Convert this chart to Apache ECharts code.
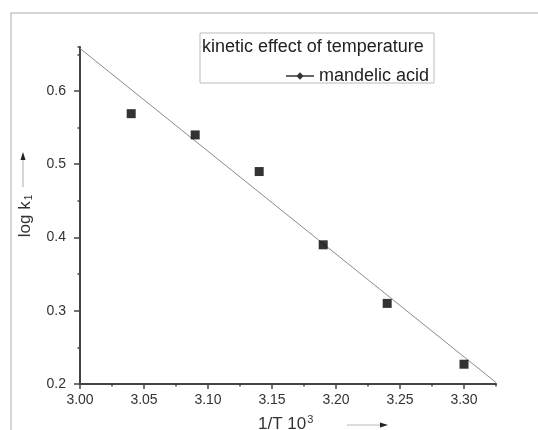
<!DOCTYPE html>
<html>
<head>
<meta charset="utf-8">
<script src="https://cdn.jsdelivr.net/npm/echarts@6/dist/echarts.min.js"></script>
<style>
  html, body { margin: 0; padding: 0; background: #fff; }
  #chart { width: 538px; height: 430px; }
</style>
</head>
<body>
<div id="chart"></div>
<script>
// measured points: 1/T * 10^3 vs log k1
const invT = [3.04, 3.09, 3.14, 3.19, 3.24, 3.30];
const logK = [0.569, 0.540, 0.490, 0.390, 0.310, 0.227];
// fitted line at both ends of the x axis
const fitX = [3.00, 3.325];
const fitY = [0.658, 0.202];
const seriesName = "mandelic acid";
const legendTitle = "kinetic effect of temperature";

const FONT = "'Liberation Sans', Arial, sans-serif";
const chart = echarts.init(document.getElementById("chart"));

const points = invT.map((x, i) => [x, logK[i]]);
const fit = fitX.map((x, i) => [x, fitY[i]]);

const axisBase = {
  type: "value",
  axisLine: { lineStyle: { color: "#444", width: 2 } },
  splitLine: { show: false },
};

const option = {
  animation: false,
  backgroundColor: "#fff",
  grid: { left: 80, right: 42, top: 47, bottom: 46 },
  xAxis: [
    Object.assign({}, axisBase, {
      min: 3.0, max: 3.325, interval: 0.05,
      axisTick: { length: 5, lineStyle: { color: "#444", width: 1.5 } },
      axisLabel: {
        margin: 9, color: "#333", fontSize: 14, fontFamily: FONT,
        showMaxLabel: false,
        formatter: (v) => v.toFixed(2),
      },
    }),
    Object.assign({}, axisBase, {
      min: 3.0, max: 3.325, interval: 0.025, position: "bottom",
      axisLine: { show: false },
      axisTick: { length: 2.5, lineStyle: { color: "#444", width: 1.5 } },
      axisLabel: { show: false },
    }),
  ],
  yAxis: [
    Object.assign({}, axisBase, {
      min: 0.2, max: 0.66, interval: 0.1,
      axisTick: { length: 6, lineStyle: { color: "#444", width: 1.5 } },
      axisLabel: {
        margin: 14, color: "#333", fontSize: 14, fontFamily: FONT,
        showMaxLabel: false,
        formatter: (v) => v.toFixed(1),
      },
    }),
    Object.assign({}, axisBase, {
      min: 0.2, max: 0.66, interval: 0.05, position: "left",
      axisLine: { show: false },
      axisTick: { length: 2.5, lineStyle: { color: "#444", width: 1.5 } },
      axisLabel: { show: false },
    }),
  ],
  legend: {
    data: [seriesName],
    left: 281, top: 62,
    itemWidth: 28, itemHeight: 8, itemGap: 5,
    icon: "path://M0,3.3H28V4.7H0Z M14,0.3L17.7,4L14,7.7L10.3,4Z",
    textStyle: { fontSize: 18, color: "#222", fontFamily: FONT },
  },
  graphic: [
    // outer frame of the figure
    { type: "rect", z: -1, shape: { x: 11, y: 13, width: 560, height: 440 },
      style: { fill: "#fff", stroke: "#c8c8c8", lineWidth: 1.5 } },
    // legend box
    { type: "rect", z: 0, shape: { x: 200, y: 33, width: 234, height: 50 },
      style: { fill: "#fff", stroke: "#bbb", lineWidth: 1 } },
    { type: "text", z: 1, x: 202, y: 47,
      style: { text: legendTitle, fill: "#222", fontSize: 18, fontFamily: FONT, verticalAlign: "middle" } },
    // y axis name
    { type: "text", z: 1, x: 25, y: 216, rotation: Math.PI / 2,
      style: {
        text: "{a|log k}{s|1}", align: "center", verticalAlign: "middle",
        rich: {
          a: { fontSize: 17, fill: "#333", fontFamily: FONT },
          s: { fontSize: 10, fill: "#333", fontFamily: FONT, padding: [8, 0, 0, 1] },
        },
      } },
    { type: "line", shape: { x1: 23, y1: 187, x2: 23, y2: 158 },
      style: { stroke: "#bbb", lineWidth: 1.2 } },
    { type: "polygon", shape: { points: [[23, 152], [20.5, 160], [25.5, 160]] },
      style: { fill: "#222" } },
    // x axis name
    { type: "text", z: 1, x: 258, y: 424,
      style: {
        text: "{a|1/T 10}{s|3}", verticalAlign: "middle",
        rich: {
          a: { fontSize: 17, fill: "#333", fontFamily: FONT },
          s: { fontSize: 11, fill: "#333", fontFamily: FONT, padding: [0, 0, 9, 1] },
        },
      } },
    { type: "line", shape: { x1: 347, y1: 425, x2: 381, y2: 425 },
      style: { stroke: "#bbb", lineWidth: 1.2 } },
    { type: "polygon", shape: { points: [[388, 425], [380, 422.5], [380, 427.5]] },
      style: { fill: "#222" } },
  ],
  series: [
    {
      name: "fit",
      type: "line",
      data: fit,
      showSymbol: false,
      silent: true,
      lineStyle: { color: "#8a8a8a", width: 1 },
      z: 2,
    },
    {
      name: seriesName,
      type: "scatter",
      data: points,
      symbol: "rect",
      symbolSize: 9,
      itemStyle: { color: "#000" },
      z: 3,
    },
  ],
};

chart.setOption(option);
</script>
</body>
</html>
